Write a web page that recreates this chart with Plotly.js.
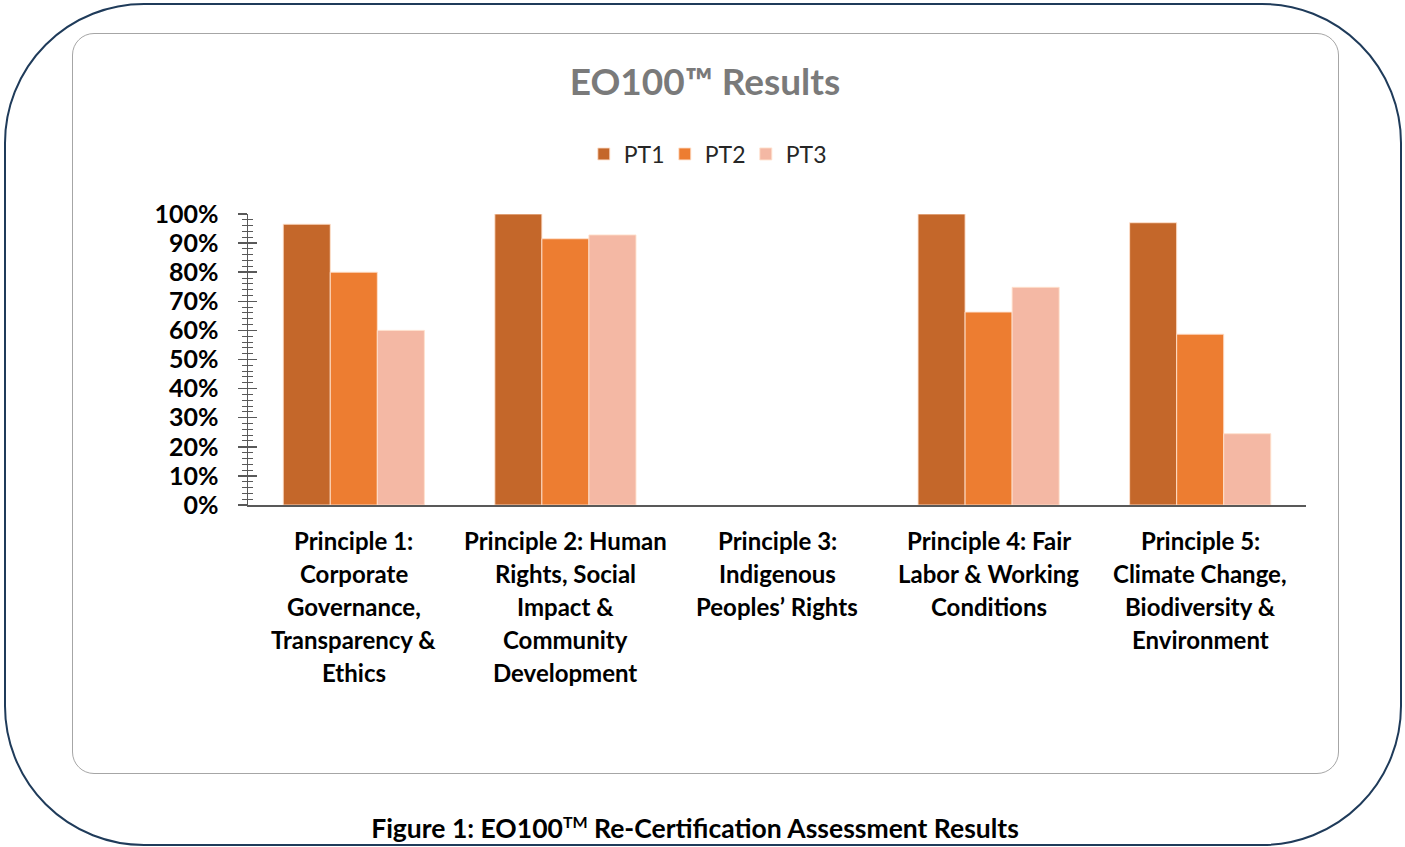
<!DOCTYPE html>
<html>
<head>
<meta charset="utf-8">
<script src="https://cdn.plot.ly/plotly-3.0.1.min.js"></script>
<style>
  html, body { margin:0; padding:0; background:#fff; }
  #wrap { position:relative; width:1405px; height:847px; overflow:hidden; }
  #outer { position:absolute; left:4px; top:3px; width:1398px; height:843px; border:2px solid #1F3B5A; border-radius:140px; box-sizing:border-box; }
  #inner { position:absolute; left:72px; top:33px; width:1267px; height:741px; border:1.5px solid #A6A6A6; border-radius:22px; box-sizing:border-box; }
  #caption { position:absolute; left:0; width:1390px; top:812px; text-align:center; font-family:Lato, sans-serif; font-weight:bold; font-size:26.5px; color:#000; }
  #caption sup { font-size:16px; }
  #chart { position:absolute; left:0; top:0; width:1405px; height:847px; }
</style>
</head>
<body>
<div id="wrap">
  <div id="outer"></div>
  <div id="inner"></div>
  <div id="chart"></div>
  <div id="caption">Figure 1: EO100<sup>TM</sup> Re-Certification Assessment Results</div>
</div>
<script>
const categories = ['P1', 'P2', 'P3', 'P4', 'P5'];
const labelLines = [
  ['Principle 1:', 'Corporate', 'Governance,', 'Transparency &', 'Ethics'],
  ['Principle 2: Human', 'Rights, Social', 'Impact &', 'Community', 'Development'],
  ['Principle 3:', 'Indigenous', 'Peoples\u2019 Rights'],
  ['Principle 4: Fair', 'Labor & Working', 'Conditions'],
  ['Principle 5:', 'Climate Change,', 'Biodiversity &', 'Environment']
];
const seriesNames = ['PT1', 'PT2', 'PT3'];
const pt1 = [0.965, 1.00, null, 1.00, 0.97];
const pt2 = [0.80, 0.915, null, 0.663, 0.587];
const pt3 = [0.60, 0.928, null, 0.748, 0.245];
const colors = ['#C4672A', '#ED7D31', '#F4B8A4'];

const FONT = 'Lato, "Open Sans", sans-serif';
const values = [pt1, pt2, pt3];
const traces = values.map((v, i) => ({
  type: 'bar',
  name: seriesNames[i],
  x: categories,
  y: v,
  marker: { color: colors[i], line: { color: 'rgba(255,225,205,0.9)', width: 1 } },
  hoverinfo: 'skip'
}));
// invisible trace to host the inside-tick overlay axis
traces.push({ type: 'scatter', x: [categories[0]], y: [0], yaxis: 'y2', mode: 'markers',
  marker: { opacity: 0 }, showlegend: false, hoverinfo: 'skip' });

const annotations = [];
labelLines.forEach((lines, i) => {
  lines.forEach((txt, j) => {
    annotations.push({
      x: categories[i], xref: 'x', y: 0, yref: 'paper',
      yanchor: 'middle', xanchor: 'center',
      yshift: -(35 + 33 * j),
      text: txt, showarrow: false,
      font: { family: FONT, size: 24, color: '#000', weight: 'bold' }
    });
  });
});

const yCommon = {
  range: [0, 1], dtick: 0.1, tick0: 0,
  showgrid: false, zeroline: false,
  showline: true, linecolor: '#595959', linewidth: 1.5,
  tickcolor: '#595959', tickwidth: 1.5
};

const layout = {
  width: 1405, height: 847,
  paper_bgcolor: 'rgba(0,0,0,0)', plot_bgcolor: 'rgba(0,0,0,0)',
  margin: { l: 248, r: 99, t: 214, b: 342 },
  barmode: 'group', bargap: 0.333, bargroupgap: 0,
  title: {
    text: 'EO100\u2122 Results',
    font: { family: FONT, size: 37, color: '#7A7A7A', weight: 'bold' },
    x: 705 / 1405, xref: 'container', xanchor: 'center',
    y: 1 - 82 / 847, yref: 'container', yanchor: 'middle'
  },
  showlegend: true,
  legend: {
    orientation: 'h', xref: 'container', yref: 'container',
    x: 0.502, xanchor: 'center', y: 1 - 154 / 847, yanchor: 'middle',
    font: { family: FONT, size: 23, color: '#262626' },
    entrywidth: 36, entrywidthmode: 'pixels', itemwidth: 30,
    bgcolor: 'rgba(0,0,0,0)'
  },
  xaxis: {
    type: 'category', showticklabels: false, ticks: '',
    showline: true, linecolor: '#595959', linewidth: 1.5,
    showgrid: false, zeroline: false, fixedrange: true
  },
  yaxis: Object.assign({}, yCommon, {
    tickformat: '.0%', ticks: 'outside', ticklen: 9,
    tickfont: { family: FONT, size: 25, color: '#000', weight: 'bold' },
    ticklabelstandoff: 14,
    minor: { dtick: 0.02, ticks: 'outside', ticklen: 5, tickcolor: '#595959', tickwidth: 1 }
  }),
  yaxis2: Object.assign({}, yCommon, {
    overlaying: 'y', side: 'left', matches: 'y', showticklabels: false,
    ticks: 'inside', ticklen: 9, showline: false,
    minor: { dtick: 0.02, ticks: 'inside', ticklen: 5, tickcolor: '#595959', tickwidth: 1 }
  }),
  annotations: annotations
};

Plotly.newPlot('chart', traces, layout, { displayModeBar: false, staticPlot: true });
</script>
</body>
</html>
